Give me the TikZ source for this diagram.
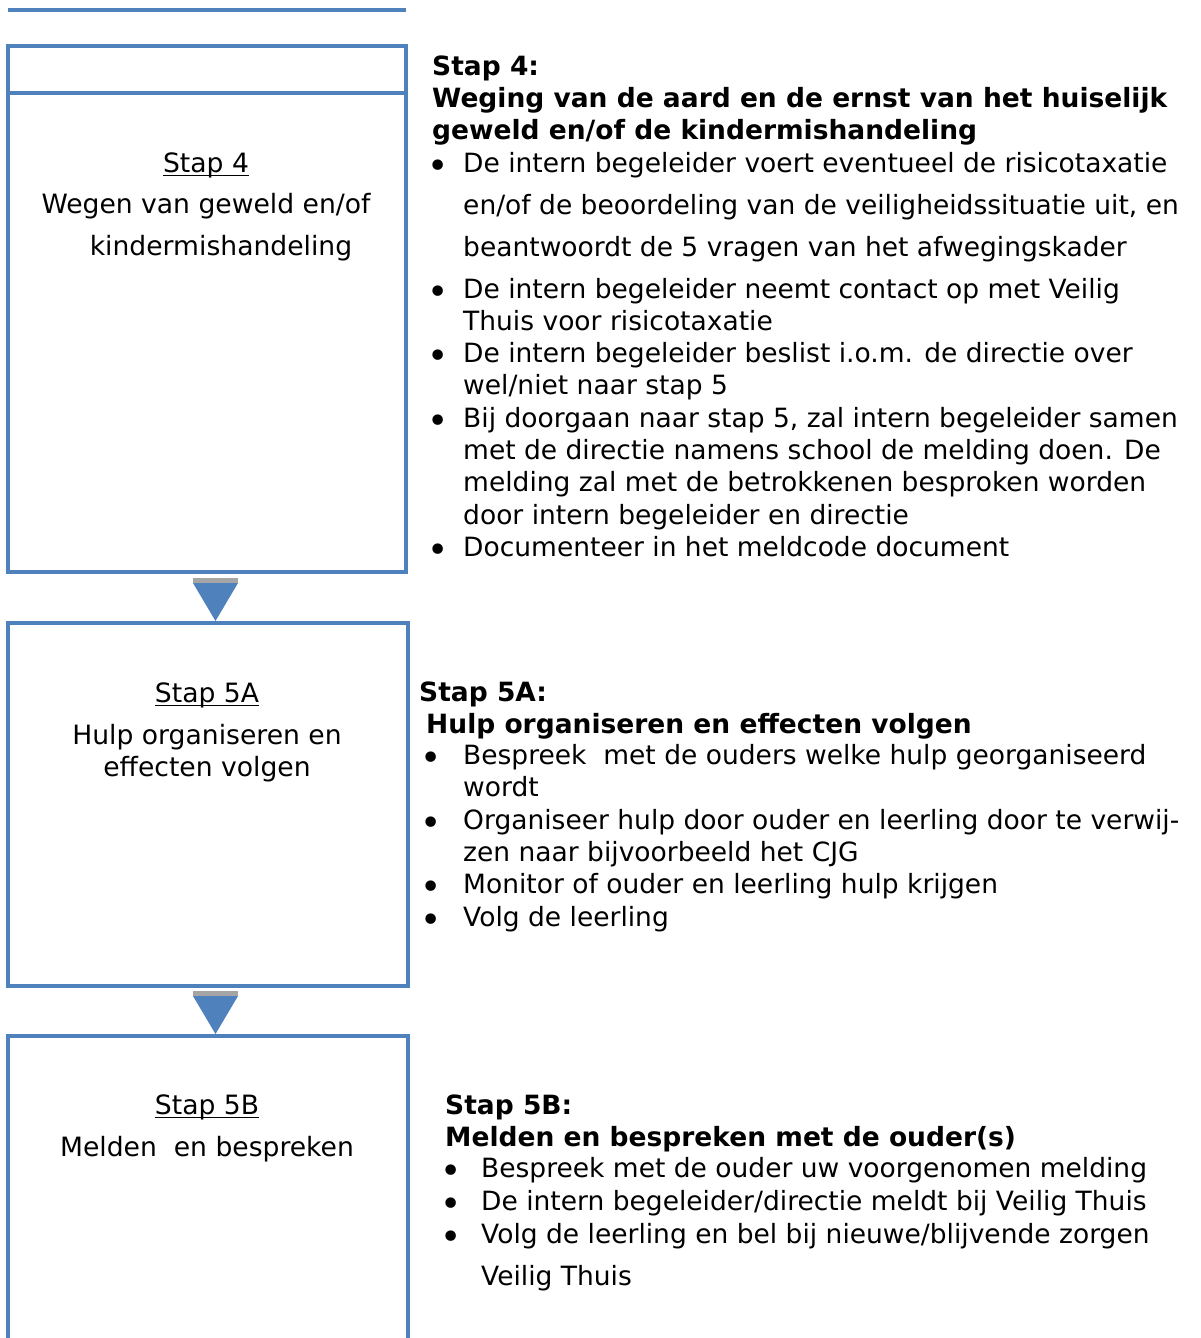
\documentclass[tikz,border=0pt]{standalone}
\usepackage{fontspec}
\setmainfont{DejaVu Sans}
\definecolor{boxblue}{HTML}{4F81BD}
\definecolor{stripgray}{HTML}{A5A5A5}
\begin{document}
\begin{tikzpicture}[x=1pt,y=-1pt,
  frame/.style={draw=boxblue, line width=4pt, inner sep=0pt, outer sep=0pt, anchor=north west},
  frameline/.style={draw=boxblue, line width=4pt},
  lt/.style={inner sep=0pt, anchor=base, text height=19pt, text depth=5pt, font=\fontsize{26.6}{32}\selectfont},
  rt/.style={inner sep=0pt, anchor=base west, text height=19pt, text depth=5pt, font=\fontsize{26.5}{32}\selectfont},
  rh/.style={rt, font=\fontsize{26.5}{32}\selectfont\bfseries},
  bul/.style={inner sep=0pt, anchor=center, yshift=-3pt, font=\fontsize{36}{40}\selectfont},
  ul/.style={line width=1.6pt, black},
  strip/.style={fill=stripgray},
  tri/.style={fill=boxblue}]
\useasboundingbox (0,0) rectangle (1201,1338);

% top line
\coordinate (tl1) at (8,10);
\coordinate (tl2) at (406,10);
\draw[frameline] (tl1) -- (tl2);

% boxes
\node[frame, minimum width=398pt, minimum height=526pt] (box1) at (8,46) {};
\coordinate (d1) at (8,93);
\coordinate (d2) at (406,93);
\draw[frameline] (d1) -- (d2);
\node[frame, minimum width=400pt, minimum height=363pt] (box2) at (8,623) {};
\node[frame, minimum width=400pt, minimum height=330pt] (box3) at (8,1036) {};

% arrows
\fill[strip] (193,578) rectangle (238,583);
\fill[tri] (193,583) -- (238,583) -- (215.5,621) -- cycle;
\fill[strip] (193,991) rectangle (238,996);
\fill[tri] (193,996) -- (238,996) -- (215.5,1034) -- cycle;

% left texts
\node[lt] (l4a) at (206,172) {Stap 4};
\draw[ul] ([yshift=-3.5pt]l4a.base west) -- ([yshift=-3.5pt]l4a.base east);
\node[lt] (l4b) at (206,213) {Wegen van geweld en/of};
\node[lt] (l4c) at (221,255) {kindermishandeling};

\node[lt] (l5a1) at (207,702) {Stap 5A};
\draw[ul] ([yshift=-3.5pt]l5a1.base west) -- ([yshift=-3.5pt]l5a1.base east);
\node[lt] (l5a2) at (207,744) {Hulp organiseren en};
\node[lt] (l5a3) at (207,776) {effecten volgen};

\node[lt] (l5b1) at (207,1114) {Stap 5B};
\draw[ul] ([yshift=-3.5pt]l5b1.base west) -- ([yshift=-3.5pt]l5b1.base east);
\node[lt] (l5b2) at (207,1156) {Melden~ en bespreken};

% right: stap 4
\node[rh] (h4a) at (432,75) {Stap 4:};
\node[rh] (h4b) at (432,107) {Weging van de aard en de ernst van het huiselijk};
\node[rh] (h4c) at (432,139) {geweld en/of de kindermishandeling};
\node[bul] (b41) at (438,166) {•};
\node[rt] (t41a) at (463,172) {De intern begeleider voert eventueel de risicotaxatie};
\node[rt] (t41b) at (463,214) {en/of de beoordeling van de veiligheidssituatie uit, en};
\node[rt] (t41c) at (463,256) {beantwoordt de 5 vragen van het afwegingskader};
\node[bul] (b42) at (438,292) {•};
\node[rt] (t42a) at (463,298) {De intern begeleider neemt contact op met Veilig};
\node[rt] (t42b) at (463,330) {Thuis voor risicotaxatie};
\node[bul] (b43) at (438,356) {•};
\node[rt] (t43a) at (463,362) {De intern begeleider beslist i.o.m. de directie over};
\node[rt] (t43b) at (463,394) {wel/niet naar stap 5};
\node[bul] (b44) at (438,421) {•};
\node[rt] (t44a) at (463,427) {Bij doorgaan naar stap 5, zal intern begeleider samen};
\node[rt] (t44b) at (463,459) {met de directie namens school de melding doen. De};
\node[rt] (t44c) at (463,491) {melding zal met de betrokkenen besproken worden};
\node[rt] (t44d) at (463,524) {door intern begeleider en directie};
\node[bul] (b45) at (438,550) {•};
\node[rt] (t45a) at (463,556) {Documenteer in het meldcode document};

% right: stap 5A
\node[rh] (h5a1) at (419,701) {Stap 5A:};
\node[rh] (h5a2) at (426,733) {Hulp organiseren en effecten volgen};
\node[bul] (b51) at (431,758) {•};
\node[rt] (t51a) at (463,764) {Bespreek~ met de ouders welke hulp georganiseerd};
\node[rt] (t51b) at (463,796) {wordt};
\node[bul] (b52) at (431,823) {•};
\node[rt] (t52a) at (463,829) {Organiseer hulp door ouder en leerling door te verwij-};
\node[rt] (t52b) at (463,861) {zen naar bijvoorbeeld het CJG};
\node[bul] (b53) at (431,887) {•};
\node[rt] (t53a) at (463,893) {Monitor of ouder en leerling hulp krijgen};
\node[bul] (b54) at (431,920) {•};
\node[rt] (t54a) at (463,926) {Volg de leerling};

% right: stap 5B
\node[rh] (h5b1) at (445,1114) {Stap 5B:};
\node[rh] (h5b2) at (445,1146) {Melden en bespreken met de ouder(s)};
\node[bul] (b61) at (451,1171) {•};
\node[rt] (t61a) at (481,1177) {Bespreek met de ouder uw voorgenomen melding};
\node[bul] (b62) at (451,1204) {•};
\node[rt] (t62a) at (481,1210) {De intern begeleider/directie meldt bij Veilig Thuis};
\node[bul] (b63) at (451,1237) {•};
\node[rt] (t63a) at (481,1243) {Volg de leerling en bel bij nieuwe/blijvende zorgen};
\node[rt] (t63b) at (481,1285) {Veilig Thuis};
\end{tikzpicture}
\end{document}
